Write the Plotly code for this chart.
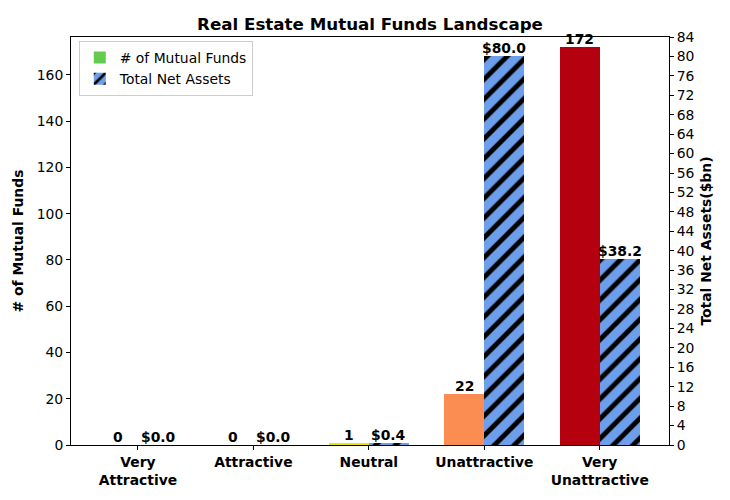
import plotly.graph_objects as go

categories = ["Very<br>Attractive", "Attractive", "Neutral", "Unattractive", "Very<br>Unattractive"]
num_funds = [0, 0, 1, 22, 172]
net_assets = [0.0, 0.0, 0.4, 80.0, 38.2]
fund_colors = ["#63cc4f", "#a6d96a", "#e6e600", "#fc8d52", "#b5000f"]
asset_color = "#6d9eeb"

x = list(range(len(categories)))
W = 0.345
font = "DejaVu Sans"
FS = 13.9

fig = go.Figure()
fig.add_trace(go.Bar(
    x=x, y=num_funds, width=W, offset=-W, name="# of Mutual Funds",
    marker=dict(color=fund_colors, line=dict(width=0)), yaxis="y",
))
fig.add_trace(go.Bar(
    x=x, y=net_assets, width=W, offset=0, name="Total Net Assets",
    marker=dict(color=asset_color, line=dict(width=0),
                pattern=dict(shape="/", fgcolor="black", bgcolor=asset_color, size=14,
                             solidity=0.35, fgopacity=1)),
    yaxis="y2",
))

ann = []
for i, v in enumerate(num_funds):
    ann.append(dict(x=i - W / 2, y=v, xref="x", yref="y", text=f"<b>{v}</b>", showarrow=False,
                    yanchor="bottom", xanchor="center", font=dict(size=FS, color="black", family=font), yshift=-2))
for i, v in enumerate(net_assets):
    ann.append(dict(x=i + W / 2, y=v, xref="x", yref="y2", text=f"<b>${v:.1f}</b>", showarrow=False,
                    yanchor="bottom", xanchor="center", font=dict(size=FS, color="black", family=font), yshift=-2))

fig.update_layout(
    width=730, height=500,
    margin=dict(l=71, r=61, t=37, b=55),
    paper_bgcolor="white", plot_bgcolor="white",
    font=dict(family=font, size=FS, color="black"),
    title=dict(text="<b>Real Estate Mutual Funds Landscape</b>", x=0.5, xref="paper",
               yref="container", y=0.941, yanchor="bottom",
               font=dict(size=16.7, family=font, color="black")),
    annotations=ann,
    showlegend=True,
    legend=dict(x=0.013, y=0.99, xanchor="left", yanchor="top", bgcolor="rgba(255,255,255,0.8)",
                bordercolor="#cccccc", borderwidth=1, font=dict(size=FS, family=font),
                tracegroupgap=2),
    bargap=0,
    xaxis=dict(range=[-0.58, 4.6], tickvals=x, ticktext=[f"<b>{c}</b>" for c in categories],
               showline=True, linecolor="black", linewidth=1, mirror=True, ticks="outside",
               ticklen=4, tickcolor="black", showgrid=False, zeroline=False, tickfont=dict(size=FS)),
    yaxis=dict(range=[0, 176.4], tickvals=list(range(0, 161, 20)), showline=True, linecolor="black",
               linewidth=1, mirror=True, ticks="outside", ticklen=4, tickcolor="black", showgrid=False,
               zeroline=False, title=dict(text="<b># of Mutual Funds</b>", font=dict(size=FS), standoff=9)),
    yaxis2=dict(range=[0, 84], tickvals=list(range(0, 85, 4)), overlaying="y", side="right",
                showline=True, linecolor="black", linewidth=1, ticks="outside", ticklen=4, tickcolor="black",
                showgrid=False, zeroline=False,
                title=dict(text="<b>Total Net Assets($bn)</b>", font=dict(size=FS), standoff=7)),
)

fig.write_html("out.html")
